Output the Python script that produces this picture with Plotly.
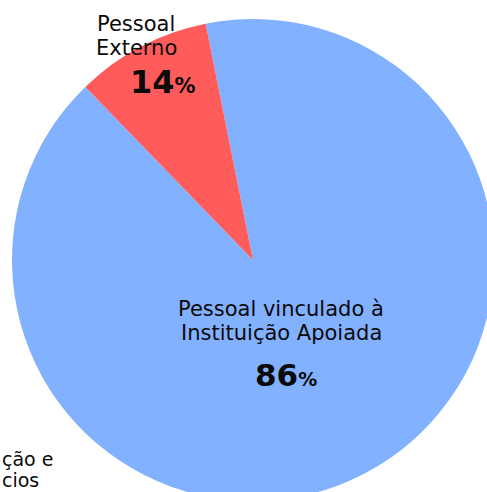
import plotly.graph_objects as go

categories = ["Pessoal vinculado à Instituição Apoiada", "Pessoal Externo"]
slice_values = [90.9, 9.1]
pct_labels = ["86", "14"]
colors = ["#82B1FF", "#FF5B5B"]

W, H = 500, 505
CX, CY, R = 253, 260, 241  # pixel geometry of the pie


def px(x):
    return x / W


def py(y):
    return 1 - y / H


fig = go.Figure(
    go.Pie(
        labels=categories,
        values=slice_values,
        sort=False,
        direction="clockwise",
        rotation=-11.33,
        marker=dict(colors=colors, line=dict(width=0)),
        textinfo="none",
        hoverinfo="label+percent",
        showlegend=False,
        domain=dict(x=[px(CX - R), px(CX + R)], y=[py(CY + R), py(CY - R)]),
    )
)

FONT = "DejaVu Sans"
ann = []


def line(text, x, y, size, xanchor="center"):
    ann.append(dict(text=text, x=px(x), y=py(y), xref="paper", yref="paper",
                    showarrow=False, xanchor=xanchor, yanchor="middle",
                    font=dict(family=FONT, size=size, color="#0a0a0a")))


line("Pessoal", 136, 24, 21)
line("Externo", 136.5, 48, 21)
line(f"<b>{pct_labels[1]}<span style='font-size:21px'>%</span></b>", 163, 82, 32)
line("Pessoal vinculado à", 280.5, 309, 21)
line("Instituição Apoiada", 281, 332.5, 21)
line(f"<b>{pct_labels[0]}<span style='font-size:19px'>%</span></b>", 285.5, 375, 31)
line("ção e", 0, 459, 19, xanchor="left")
line("cios", 0, 480, 19, xanchor="left")

fig.update_layout(
    width=W, height=H,
    margin=dict(l=0, r=0, t=0, b=0),
    paper_bgcolor="white", plot_bgcolor="white",
    annotations=ann,
)

fig.write_html(
    "out.html",
    config={"displayModeBar": False},
    post_script="document.body.style.margin='0';document.body.style.overflow='hidden';"
                "document.documentElement.style.overflow='hidden';",
)
